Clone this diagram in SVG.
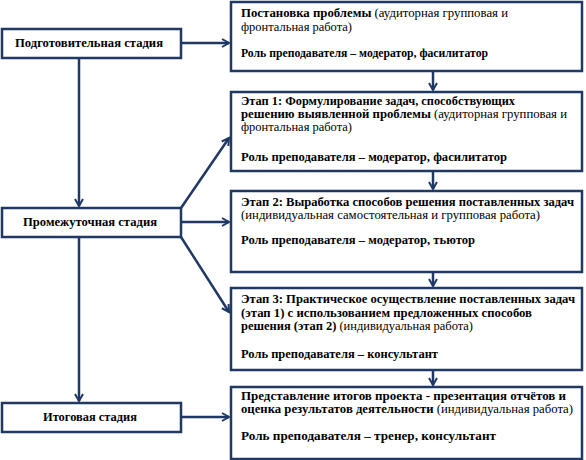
<svg xmlns="http://www.w3.org/2000/svg" width="586" height="460" viewBox="0 0 586 460">
<style>
.box{fill:#fff;stroke:#203864;stroke-width:2.5}
.ln{stroke:#203864;stroke-width:2.5;fill:none}
text{font-family:"Liberation Serif","Times New Roman",serif;font-size:12px;fill:#000}
.b{font-weight:bold}
</style>
<defs>
<marker id="ah" viewBox="0 0 10 10" refX="8" refY="5" markerWidth="4" markerHeight="4" orient="auto" markerUnits="strokeWidth">
<path d="M1,1 L8,5 L1,9" fill="none" stroke="#203864" stroke-width="2"/>
</marker>
</defs>
<g id="connectors">
<line class="ln" x1="79" y1="58" x2="79" y2="206" marker-end="url(#ah)"/>
<line class="ln" x1="79" y1="237" x2="79" y2="401" marker-end="url(#ah)"/>
<line class="ln" x1="181" y1="43" x2="229" y2="43" marker-end="url(#ah)"/>
<line class="ln" x1="181" y1="222" x2="229" y2="222" marker-end="url(#ah)"/>
<line class="ln" x1="181" y1="208" x2="229" y2="138" marker-end="url(#ah)"/>
<line class="ln" x1="181" y1="237" x2="229" y2="312" marker-end="url(#ah)"/>
<line class="ln" x1="181" y1="417" x2="229" y2="417" marker-end="url(#ah)"/>
<line class="ln" x1="433" y1="71" x2="433" y2="90" marker-end="url(#ah)"/>
<line class="ln" x1="433" y1="171" x2="433" y2="189" marker-end="url(#ah)"/>
<line class="ln" x1="433" y1="272" x2="433" y2="286" marker-end="url(#ah)"/>
<line class="ln" x1="433" y1="370" x2="433" y2="385" marker-end="url(#ah)"/>
</g>
<g id="n-prep">
<rect class="box" x="2" y="29" width="179" height="29"/>
<text class="b" x="15" y="47" textLength="148" lengthAdjust="spacingAndGlyphs">Подготовительная стадия</text>
</g>
<g id="n-mid">
<rect class="box" x="2" y="208" width="179" height="29"/>
<text class="b" x="23" y="226" textLength="134" lengthAdjust="spacingAndGlyphs">Промежуточная стадия</text>
</g>
<g id="n-final">
<rect class="box" x="2" y="403" width="179" height="29"/>
<text class="b" x="43" y="421" textLength="94" lengthAdjust="spacingAndGlyphs">Итоговая стадия</text>
</g>
<g id="n-problem">
<rect class="box" x="231" y="2" width="351" height="69"/>
<text x="241" y="17" textLength="267" lengthAdjust="spacingAndGlyphs"><tspan class="b">Постановка проблемы</tspan> (аудиторная групповая и</text>
<text x="241" y="31" textLength="111" lengthAdjust="spacingAndGlyphs">фронтальная работа)</text>
<text class="b" x="241" y="57" textLength="247" lengthAdjust="spacingAndGlyphs">Роль преподавателя – модератор, фасилитатор</text>
</g>
<g id="n-stage1">
<rect class="box" x="231" y="92" width="351" height="79"/>
<text class="b" x="241" y="105" textLength="274" lengthAdjust="spacingAndGlyphs">Этап 1: Формулирование задач, способствующих</text>
<text x="241" y="118" textLength="326" lengthAdjust="spacingAndGlyphs"><tspan class="b">решению выявленной проблемы</tspan> (аудиторная  групповая и</text>
<text x="241" y="131" textLength="111" lengthAdjust="spacingAndGlyphs">фронтальная работа)</text>
<text class="b" x="241" y="161" textLength="266" lengthAdjust="spacingAndGlyphs">Роль преподавателя – модератор, фасилитатор</text>
</g>
<g id="n-stage2">
<rect class="box" x="231" y="191" width="351" height="81"/>
<text class="b" x="241" y="206" textLength="333" lengthAdjust="spacingAndGlyphs">Этап 2: Выработка способов решения поставленных задач</text>
<text x="241" y="219" textLength="299" lengthAdjust="spacingAndGlyphs">(индивидуальная самостоятельная  и групповая работа)</text>
<text class="b" x="241" y="244" textLength="234" lengthAdjust="spacingAndGlyphs">Роль преподавателя – модератор, тьютор</text>
</g>
<g id="n-stage3">
<rect class="box" x="231" y="288" width="351" height="82"/>
<text class="b" x="241" y="303" textLength="334" lengthAdjust="spacingAndGlyphs">Этап 3: Практическое осуществление поставленных задач</text>
<text class="b" x="241" y="317" textLength="291" lengthAdjust="spacingAndGlyphs">(этап 1) с использованием предложенных способов</text>
<text x="241" y="330" textLength="232" lengthAdjust="spacingAndGlyphs"><tspan class="b">решения (этап 2)</tspan> (индивидуальная работа)</text>
<text class="b" x="241" y="358" textLength="197" lengthAdjust="spacingAndGlyphs">Роль преподавателя – консультант</text>
</g>
<g id="n-result">
<rect class="box" x="231" y="387" width="351" height="72"/>
<text class="b" x="241" y="400" textLength="325" lengthAdjust="spacingAndGlyphs">Представление итогов проекта - презентация отчётов и</text>
<text x="241" y="413" textLength="332" lengthAdjust="spacingAndGlyphs"><tspan class="b">оценка результатов деятельности</tspan> (индивидуальная работа)</text>
<text class="b" x="241" y="440" textLength="255" lengthAdjust="spacingAndGlyphs">Роль преподавателя –  тренер, консультант</text>
</g>
</svg>
